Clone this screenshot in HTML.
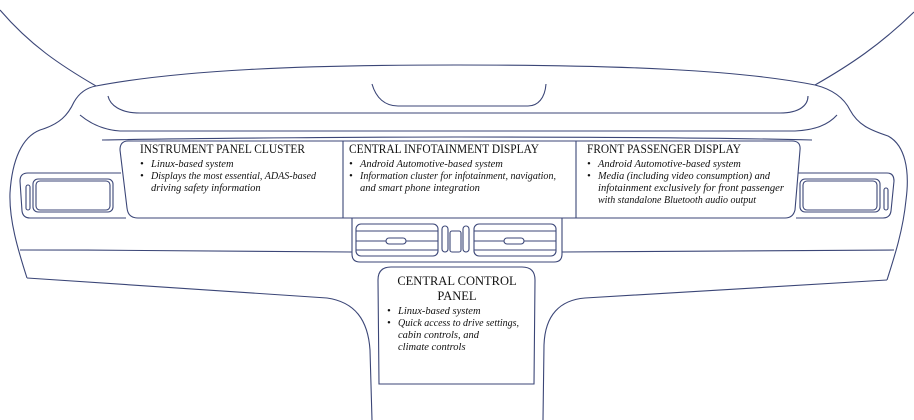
<!DOCTYPE html>
<html><head><meta charset="utf-8"><style>
html,body{margin:0;padding:0;background:#fff;}
svg{display:block}
text{font-family:"Liberation Serif",serif;fill:#111;}
.t{font-size:12.5px;}
.b{font-size:10.5px;font-style:italic;}
</style></head><body>
<svg width="914" height="420" viewBox="0 0 914 420" fill="none" stroke="#3b4677" stroke-width="1.1">
<!-- windshield pillars -->
<path d="M0,10 C30,45 60,65 96,86"/>
<path d="M914,12 C880,45 850,65 815,85"/>
<!-- dash top -->
<path d="M96,86 C180,70 300,65 457,65 C620,65 740,70 815,85"/>
<!-- outer left -->
<path d="M96,86 C85,88 78,95 74,102 C68,115 60,124 40,130 C22,137 12,160 10,193 C9,220 18,250 27,278"/>
<path d="M27,278 L327,298 C355,302 368,320 370,350 L372,420"/>
<!-- outer right -->
<path d="M815,85 C835,90 845,100 850,110 C858,125 870,130 888,136 C905,145 910,170 906,200 C903,230 895,255 887,280"/>
<path d="M887,280 L585,298 C560,300 545,315 544,345 L543,420"/>
<!-- inner strips -->
<path d="M108,96 C110,105 120,113 140,113 L780,113 C800,113 808,105 808,96"/>
<path d="M80,115 C92,125 105,130 120,131 L795,131 C815,130 828,125 837,115"/>
<path d="M372,84 C376,98 385,106 398,106 L528,106 C538,106 545,98 546,84"/>
<path d="M102,140 C200,138 400,137 457,137 C600,137 730,138 812,140"/>
<!-- main display box -->
<path d="M128,141 L792,141 Q801,141 800,150 L795,210 Q793,218 785,218 L138,218 Q128,218 127,208 L120,150 Q120,141 128,141 Z"/>
<line x1="343" y1="141" x2="343" y2="218"/>
<line x1="576" y1="141" x2="576" y2="218"/>
<!-- side vents -->
<path d="M28,173 L121,173 M126,218 L30,218 Q23,218 22,211 L20,181 Q20,173 28,173"/>
<rect x="33" y="179" width="80" height="33" rx="5"/>
<rect x="36" y="181" width="74" height="29" rx="4"/>
<rect x="26" y="185" width="4" height="25" rx="2"/>
<path d="M798,173 L887,173 Q894,173 894,181 L891,211 Q890,218 883,218 L796,218"/>
<rect x="800" y="179" width="80" height="33" rx="5"/>
<rect x="803" y="181" width="74" height="29" rx="4"/>
<rect x="884" y="188" width="4" height="22" rx="2"/>
<!-- lower dash line -->
<path d="M20,250 C150,250 300,251 352,252"/>
<path d="M562,252 C700,251 800,250 894,250"/>
<!-- central vent unit -->
<path d="M352,218 L352,254 Q352,262 360,262 L554,262 Q562,262 562,254 L562,218"/>
<rect x="356" y="224" width="82" height="32" rx="5"/>
<line x1="356" y1="231" x2="438" y2="231"/><line x1="356" y1="241" x2="386" y2="241"/><line x1="406" y1="241" x2="438" y2="241"/><line x1="356" y1="250" x2="438" y2="250"/>
<rect x="386" y="238" width="20" height="6" rx="3"/>
<rect x="442" y="226" width="6" height="26" rx="3"/>
<rect x="450" y="231" width="11" height="21" rx="2"/>
<rect x="463" y="226" width="6" height="26" rx="3"/>
<rect x="474" y="224" width="82" height="32" rx="5"/>
<line x1="474" y1="231" x2="556" y2="231"/><line x1="474" y1="241" x2="504" y2="241"/><line x1="524" y1="241" x2="556" y2="241"/><line x1="474" y1="250" x2="556" y2="250"/>
<rect x="504" y="238" width="20" height="6" rx="3"/>
<!-- central control panel -->
<path d="M379,384 L378,280 Q378,267 391,267 L522,267 Q535,267 535,280 L534,384 Z"/>
<g stroke="none">
<text class="t" x="140" y="153" textLength="165" lengthAdjust="spacingAndGlyphs">INSTRUMENT PANEL CLUSTER</text>
<text class="b" x="140" y="167">•</text><text class="b" x="151" y="167">Linux-based system</text>
<text class="b" x="140" y="179">•</text><text class="b" x="151" y="179" textLength="165" lengthAdjust="spacingAndGlyphs">Displays the most essential, ADAS-based</text>
<text class="b" x="151" y="191">driving safety information</text>

<text class="t" x="349" y="153" textLength="190" lengthAdjust="spacingAndGlyphs">CENTRAL INFOTAINMENT DISPLAY</text>
<text class="b" x="349" y="167">•</text><text class="b" x="360" y="167">Android Automotive-based system</text>
<text class="b" x="349" y="179">•</text><text class="b" x="360" y="179" textLength="196" lengthAdjust="spacingAndGlyphs">Information cluster for infotainment, navigation,</text>
<text class="b" x="360" y="191">and smart phone integration</text>

<text class="t" x="587" y="153" textLength="154" lengthAdjust="spacingAndGlyphs">FRONT PASSENGER DISPLAY</text>
<text class="b" x="587" y="167">•</text><text class="b" x="598" y="167">Android Automotive-based system</text>
<text class="b" x="587" y="179">•</text><text class="b" x="598" y="179" textLength="172" lengthAdjust="spacingAndGlyphs">Media (including video consumption) and</text>
<text class="b" x="598" y="191" textLength="186" lengthAdjust="spacingAndGlyphs">infotainment exclusively for front passenger</text>
<text class="b" x="598" y="203" textLength="158" lengthAdjust="spacingAndGlyphs">with standalone Bluetooth audio output</text>

<text class="t" x="457" y="285" text-anchor="middle">CENTRAL CONTROL</text>
<text class="t" x="457" y="300" text-anchor="middle">PANEL</text>
<text class="b" x="387" y="314">•</text><text class="b" x="398" y="314">Linux-based system</text>
<text class="b" x="387" y="326">•</text><text class="b" x="398" y="326" textLength="121" lengthAdjust="spacingAndGlyphs">Quick access to drive settings,</text>
<text class="b" x="398" y="338">cabin controls, and</text>
<text class="b" x="398" y="350">climate controls</text>
</g>
</svg>
</body></html>
